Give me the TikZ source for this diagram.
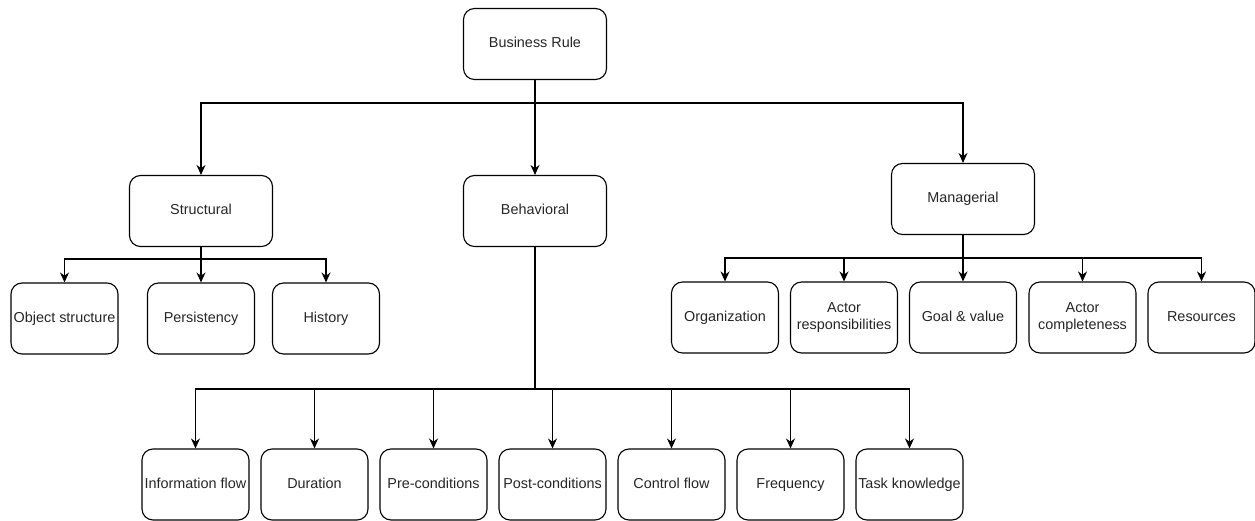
\documentclass[tikz,border=0pt]{standalone}
\usepackage{fontspec}
\setmainfont{Liberation Sans}
\usetikzlibrary{arrows.meta,positioning}
\tikzset{
    % Category boxes (upper levels)
    catbox/.style={
        draw=black, rounded corners=11pt, line width=1.1pt,
        minimum width=143pt, minimum height=71pt, inner sep=0pt,
        align=center, text=black!85, font=\fontsize{14.4}{17}\selectfont,
        text height=10.5pt, text depth=3pt
    },
    % Leaf boxes (narrower)
    leafbox/.style={catbox, minimum width=107pt},
    % Leaf boxes with two lines of text
    twoleafbox/.style={leafbox, text height=, text depth=},
}
\tikzset{
    % Plain tree line
    treeline/.style={line width=1.2pt, black},
    % Tree line that ends in an arrow
    treearrow/.style={treeline, -{Stealth[length=10pt,width=9pt]}},
}

\begin{document}
\begin{tikzpicture}[x=1pt,y=-1pt]
  \useasboundingbox (0,0) rectangle (1255,521);
  % top and categories
  \node[catbox] (root) at (535,44) {Business Rule};
  \node[catbox] (struct) at (201,211) {Structural};
  \node[catbox] (behav) at (535,211) {Behavioral};
  \node[catbox] (manag) at (963,199) {Managerial};
  % structural leaves
  \node[leafbox] (objstruct) at (64.5,318.5) {Object structure};
  \node[leafbox] (persist) at (201,318.5) {Persistency};
  \node[leafbox] (history) at (326,318.5) {History};
  % managerial leaves
  \node[leafbox] (org) at (725,317.5) {Organization};
  \node[twoleafbox] (actresp) at (844,317.5) {Actor\\responsibilities};
  \node[leafbox] (goal) at (963,317.5) {Goal \& value};
  \node[twoleafbox] (actcomp) at (1082.5,317.5) {Actor\\completeness};
  \node[leafbox] (resources) at (1201.5,317.5) {Resources};
  % behavioral leaves
  \node[leafbox] (info) at (195.5,484.5) {Information flow};
  \node[leafbox] (duration) at (314.5,484.5) {Duration};
  \node[leafbox] (precond) at (433.5,484.5) {Pre-conditions};
  \node[leafbox] (postcond) at (552.5,484.5) {Post-conditions};
  \node[leafbox] (control) at (671.5,484.5) {Control flow};
  \node[leafbox] (freq) at (790.5,484.5) {Frequency};
  \node[leafbox] (task) at (909.5,484.5) {Task knowledge};
  % bus points
  \coordinate (rootbus) at (535,103);
  \coordinate (structbus) at (201,259);
  \coordinate (managbus) at (963,258);
  \coordinate (behavbus) at (535,389);
  % root to categories
  \draw[treeline] (root) -- (rootbus);
  \draw[treearrow] (rootbus) -| (struct);
  \draw[treearrow] (rootbus) -- (behav);
  \draw[treearrow] (rootbus) -| (manag);
  % structural
  \draw[treeline] (struct) -- (structbus);
  \draw[treearrow] (structbus) -| (objstruct);
  \draw[treearrow] (structbus) -- (persist);
  \draw[treearrow] (structbus) -| (history);
  % managerial
  \draw[treeline] (manag) -- (managbus);
  \draw[treearrow] (managbus) -| (org);
  \draw[treearrow] (managbus) -| (actresp);
  \draw[treearrow] (managbus) -- (goal);
  \draw[treearrow] (managbus) -| (actcomp);
  \draw[treearrow] (managbus) -| (resources);
  % behavioral
  \draw[treeline] (behav) -- (behavbus);
  \draw[treearrow] (behavbus) -| (info);
  \draw[treearrow] (behavbus) -| (duration);
  \draw[treearrow] (behavbus) -| (precond);
  \draw[treearrow] (behavbus) -| (postcond);
  \draw[treearrow] (behavbus) -| (control);
  \draw[treearrow] (behavbus) -| (freq);
  \draw[treearrow] (behavbus) -| (task);
\end{tikzpicture}
\end{document}
